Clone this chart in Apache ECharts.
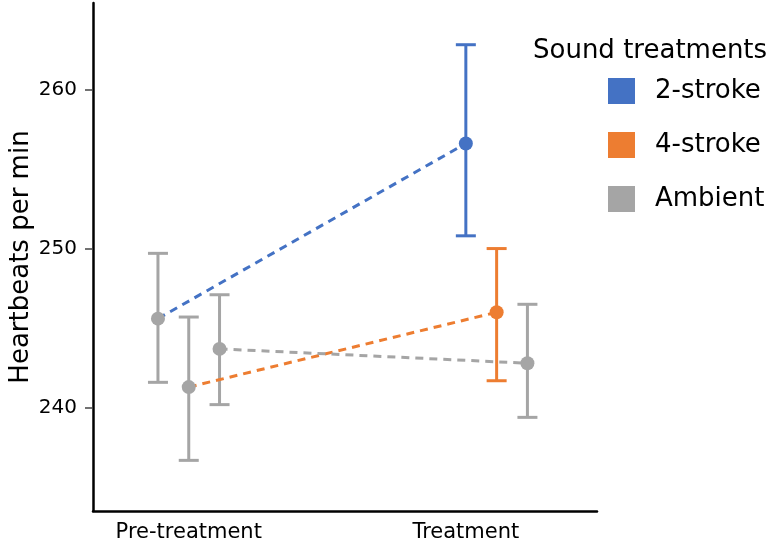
<!DOCTYPE html>
<html>
<head>
<meta charset="utf-8">
<script src="https://cdn.jsdelivr.net/npm/echarts@6/dist/echarts.min.js"></script>
<style>html,body{margin:0;padding:0;background:#fff;}#c{width:768px;height:544px;}</style>
</head>
<body>
<div id="c"></div>
<script>
// ---- data ----
const periods = ['Pre-treatment', 'Treatment'];
const treatments = ['2-stroke', '4-stroke', 'Ambient'];
// [pre, treatment]
const meanValues = {
  '2-stroke': [245.6, 256.6],
  '4-stroke': [241.3, 246.0],
  'Ambient':  [243.7, 242.8]
};
const lowValues = {
  '2-stroke': [241.6, 250.8],
  '4-stroke': [236.7, 241.7],
  'Ambient':  [240.2, 239.4]
};
const highValues = {
  '2-stroke': [249.7, 262.8],
  '4-stroke': [245.7, 250.0],
  'Ambient':  [247.1, 246.5]
};
const yTicks = [240, 250, 260];

// ---- layout / style ----
const colors = {'2-stroke': '#4472C4', '4-stroke': '#ED7D31', 'Ambient': '#A5A5A5'};
const preColor = '#A5A5A5';
const offsets = {'2-stroke': -0.1, '4-stroke': 0, 'Ambient': 0.1};
const periodLabelPos = [0, 0.9];
const FONT = 'DejaVu Sans';

const series = [];
const barRows = [];
treatments.forEach(function (t) {
  series.push({
    name: t,
    type: 'line',
    z: 5,
    symbol: 'circle',
    symbolSize: 14,
    itemStyle: {color: colors[t]},
    lineStyle: {color: colors[t], width: 3, type: [8, 6]},
    data: periods.map(function (p, i) {
      const d = {value: [i + offsets[t], meanValues[t][i]]};
      if (i === 0) d.itemStyle = {color: preColor};
      return d;
    })
  });
  periods.forEach(function (p, i) {
    barRows.push([i + offsets[t], lowValues[t][i], highValues[t][i], i === 0 ? preColor : colors[t]]);
  });
});

series.push({
  name: 'errorbars',
  type: 'custom',
  z: 3,
  renderItem: function (params, api) {
    const x = api.value(0);
    const lo = api.coord([x, api.value(1)]);
    const hi = api.coord([x, api.value(2)]);
    const color = barRows[params.dataIndex][3];
    const half = 10;
    const style = {stroke: color, lineWidth: 3, fill: null};
    return {
      type: 'group',
      children: [
        {type: 'line', shape: {x1: lo[0], y1: lo[1], x2: hi[0], y2: hi[1]}, style: style},
        {type: 'line', shape: {x1: lo[0] - half, y1: lo[1], x2: lo[0] + half, y2: lo[1]}, style: style},
        {type: 'line', shape: {x1: hi[0] - half, y1: hi[1], x2: hi[0] + half, y2: hi[1]}, style: style}
      ]
    };
  },
  encode: {x: 0, y: [1, 2]},
  data: barRows.map(function (r) { return [r[0], r[1], r[2]]; })
});

const chart = echarts.init(document.getElementById('c'));
chart.setOption({
  animation: false,
  backgroundColor: '#fff',
  textStyle: {fontFamily: FONT},
  title: {
    text: 'Sound treatments',
    left: 533, top: 38,
    padding: 0,
    textStyle: {fontFamily: FONT, fontSize: 26, fontWeight: 'normal', color: '#000'}
  },
  legend: {
    data: treatments,
    orient: 'vertical',
    left: 608, top: 78,
    padding: 0,
    icon: 'rect',
    itemWidth: 27, itemHeight: 26,
    itemGap: 28,
    textStyle: {fontFamily: FONT, fontSize: 26, color: '#000', padding: [0, 0, 0, 15]}
  },
  grid: {left: 93, right: 171, top: 3, bottom: 33, containLabel: false, outerBoundsMode: 'none'},
  xAxis: {
    type: 'value',
    min: -0.311, max: 1.326,
    splitLine: {show: false},
    axisLine: {onZero: false, lineStyle: {color: '#000', width: 2.5}},
    axisTick: {show: false},
    axisLabel: {
      customValues: periodLabelPos,
      formatter: function (v) { return Math.abs(v - periodLabelPos[0]) < 1e-6 ? periods[0] : periods[1]; },
      margin: 11,
      fontFamily: FONT, fontSize: 21, color: '#000'
    }
  },
  yAxis: {
    type: 'value',
    min: 233.52, max: 265.42,
    name: 'Heartbeats per min',
    nameLocation: 'middle',
    nameGap: 59,
    nameMoveOverlap: false,
    nameTextStyle: {fontFamily: FONT, fontSize: 26, color: '#000'},
    splitLine: {show: false},
    axisLine: {show: true, onZero: false, lineStyle: {color: '#000', width: 2.5}},
    axisTick: {show: true, customValues: yTicks, length: 8, lineStyle: {color: '#444', width: 1.5}},
    axisLabel: {customValues: yTicks, margin: 16, fontFamily: FONT, fontSize: 20, color: '#000'}
  },
  series: series
});
</script>
</body>
</html>
